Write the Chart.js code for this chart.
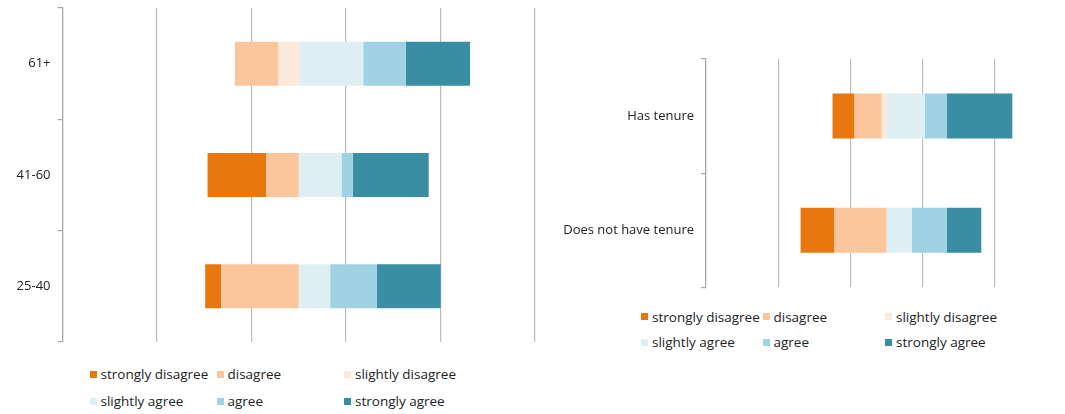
<!DOCTYPE html>
<html><head><meta charset="utf-8">
<script src="https://cdn.jsdelivr.net/npm/chart.js@4.4.0/dist/chart.umd.min.js"></script>
<style>
html,body{margin:0;padding:0;background:#fff;width:1065px;height:414px;overflow:hidden;position:relative;font-family:'Open Sans',sans-serif;}
#c1wrap{position:absolute;left:0;top:0;width:540px;height:350px;}
#c2wrap{position:absolute;left:540px;top:0;width:540px;height:300px;}
.leg{position:absolute;font-size:13.5px;color:#222;white-space:nowrap;line-height:16px;height:16px;}
.leg i{position:absolute;left:0;top:4.5px;width:7px;height:7px;}
.leg span{position:absolute;left:11px;top:0;}
</style></head><body>
<div id="c1wrap"><canvas id="c1"></canvas></div>
<div id="c2wrap"><canvas id="c2"></canvas></div>
<div id="legends"></div>
<script>
// ---- data (percent of respondents) ----
const seriesLabels = ['strongly disagree','disagree','slightly disagree','slightly agree','agree','strongly agree'];
const seriesColors = ['#E9770F','#FBC69B','#FDE9DB','#DEEFF4','#9FD2E2','#3A8EA4'];

const ageCategories = ['61+','41-60','25-40'];
const ageStronglyDisagree = [0, 24.8, 6.8];
const ageDisagree         = [18.4, 13.8, 32.8];
const ageSlightlyDisagree = [8.6, 0, 0];
const ageSlightlyAgree    = [27.3, 18.1, 13.3];
const ageAgree            = [18.0, 4.8, 19.8];
const ageStronglyAgree    = [27.2, 32.1, 27.0];

const tenureCategories = ['Has tenure','Does not have tenure'];
const tenStronglyDisagree = [12.2, 18.8];
const tenDisagree         = [15.1, 28.8];
const tenSlightlyDisagree = [2.6, 0];
const tenSlightlyAgree    = [21.2, 14.0];
const tenAgree            = [12.2, 19.5];
const tenStronglyAgree    = [36.3, 19.0];

const gridTicks = [-100,-60,-20,20,60,100];

Chart.defaults.font.family = "'Open Sans', sans-serif";
Chart.defaults.font.size = 13;
Chart.defaults.color = '#222';

function buildDatasets(sd,d,sld,sla,a,sa){
  const neg = v => v.map(x => x === 0 ? 0 : -x);
  // negatives stack outward from zero: slightly disagree first
  const order = [[2,neg(sld)],[1,neg(d)],[0,neg(sd)],[3,sla],[4,a],[5,sa]];
  return order.map(([i,vals]) => ({
    label: seriesLabels[i], data: vals, backgroundColor: seriesColors[i],
    borderWidth: 0, barPercentage: 1, categoryPercentage: 0.395
  }));
}

function makeChart(id, labels, datasets, yWidth, padding){
  return new Chart(document.getElementById(id), {
    type: 'bar',
    data: { labels, datasets },
    options: {
      indexAxis: 'y', responsive: true, maintainAspectRatio: false, animation: false,
      layout: { padding },
      plugins: { legend: { display: false }, tooltip: { enabled: false } },
      scales: {
        x: {
          stacked: true, min: -100, max: 100,
          afterBuildTicks: s => { s.ticks = gridTicks.map(v => ({ value: v })); },
          afterFit: s => { s.height = 0; s.paddingLeft = 0; s.paddingRight = 0; },
          ticks: { display: false },
          grid: { color: '#BDBDBD', lineWidth: 1.2, drawTicks: false },
          border: { display: false }
        },
        y: {
          stacked: true,
          afterFit: s => { s.width = yWidth; s.paddingTop = 0; s.paddingBottom = 0; },
          ticks: { padding: 7, color: '#222', font: { size: 13 } },
          grid: { drawOnChartArea: false, drawTicks: true, tickLength: 5, color: '#A8A8A8', lineWidth: 1.2, offset: true },
          border: { display: true, color: '#A8A8A8', width: 1.2 }
        }
      }
    }
  });
}

makeChart('c1', ageCategories,
  buildDatasets(ageStronglyDisagree, ageDisagree, ageSlightlyDisagree, ageSlightlyAgree, ageAgree, ageStronglyAgree),
  62.5, { left: 0, right: 5, top: 8, bottom: 8 });

makeChart('c2', tenureCategories,
  buildDatasets(tenStronglyDisagree, tenDisagree, tenSlightlyDisagree, tenSlightlyAgree, tenAgree, tenStronglyAgree),
  166, { left: 0, right: 13, top: 59, bottom: 12.7 });

// ---- legends (HTML, generated from series arrays) ----
function legend(colsX, rowsY){
  const host = document.getElementById('legends');
  seriesLabels.forEach((lab, i) => {
    const el = document.createElement('div');
    el.className = 'leg';
    el.style.left = colsX[i % 3] + 'px';
    el.style.top = (rowsY[Math.floor(i / 3)] - 8) + 'px';
    el.innerHTML = '<i style="background:' + seriesColors[i] + '"></i><span>' + lab + '</span>';
    host.appendChild(el);
  });
}
legend([89.5, 216.5, 344], [374, 401]);
legend([641, 762.5, 885], [316.7, 342.3]);
</script>
</body></html>
